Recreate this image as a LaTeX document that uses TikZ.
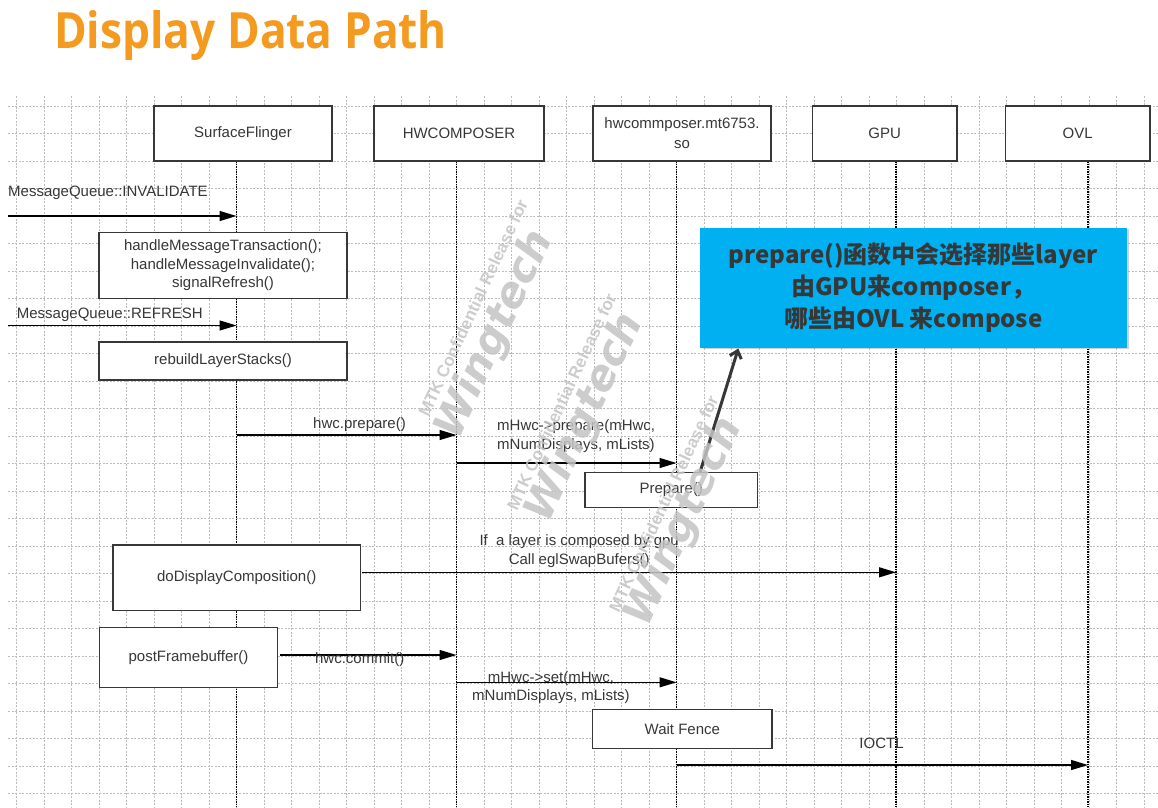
\documentclass[tikz,border=0pt]{standalone}
\usepackage{fontspec}
\setmainfont{Liberation Sans}
\newfontfamily\titrefont{Open Sans}
\newfontfamily\cjk{Noto Sans CJK SC}
\newfontfamily\marquefont{DejaVu Sans}
\usetikzlibrary{arrows.meta}

\definecolor{titre}{RGB}{243,154,31}
\definecolor{bleu}{RGB}{0,176,240}
\definecolor{trait}{RGB}{55,55,55}
\definecolor{grille}{RGB}{188,188,188}
\definecolor{filigrane}{RGB}{196,196,196}

\begin{document}
\begin{tikzpicture}[x=1pt,y=-1pt]
\tikzset{tete/.style={draw=trait, fill=white, line width=1.2pt, minimum height=55pt, inner sep=0pt, align=center, font=\fontsize{15}{20}\selectfont, text=trait},
boite/.style={draw=trait, fill=white, line width=1.2pt, inner sep=0pt, align=center, font=\fontsize{15}{18.5}\selectfont, text=trait},
fleche/.style={-{Triangle[length=17pt,width=10pt]}, line width=1.3pt},
vie/.style={dash pattern=on 1.5pt off 1pt, line width=1.2pt},
etiq/.style={font=\fontsize{15}{18.5}\selectfont, inner sep=0pt, align=center, text=trait},
grid/.style={draw=grille, line width=0.8pt, dash pattern=on 2pt off 1.5pt},
marque/.style={text=filigrane, opacity=0.85, inner sep=0pt, rotate=65}}
\useasboundingbox (0,0) rectangle (1158,807);
\fill[white] (0,0) rectangle (1158,807);
% grille
\foreach \i in {0,...,41} \draw[grid] ({16.5+27.5*\i},96) -- ({16.5+27.5*\i},807);
\foreach \j in {0,...,25} \draw[grid] (8,{106+27.5*\j}) -- (1158,{106+27.5*\j});
% titre
\node[anchor=base west, inner sep=0pt, text=titre, font=\titrefont\bfseries\fontsize{50}{50}\selectfont] (T) at (54,48) {\scalebox{0.885}[1]{Display Data Path}};
% lignes de vie
\foreach \n/\x in {SF/236.5, HWC/456.5, HAL/676.5, GPU/896, OVL/1088} {
  \coordinate (h\n) at (\x,161);
  \coordinate (b\n) at (\x,807);
  \draw[vie] (h\n) -- (b\n);
}
% entetes
\node[tete, minimum width=178pt] (SF) at (243,133.5) {SurfaceFlinger};
\node[tete, minimum width=170pt] (HWC) at (459,133.5) {HWCOMPOSER};
\node[tete, minimum width=178pt] (HAL) at (682,133.5) {hwcommposer.mt6753.\\so};
\node[tete, minimum width=144.5pt] (GPU) at (884.7,133.5) {GPU};
\node[tete, minimum width=144.5pt] (OVL) at (1077.7,133.5) {OVL};
% boites
\node[boite, minimum width=248pt, minimum height=65.6pt] (B1) at (223,265.5) {handleMessageTransaction();\\handleMessageInvalidate();\\signalRefresh()};
\node[boite, minimum width=248pt, minimum height=38pt] (B2) at (223,361) {rebuildLayerStacks()};
\node[boite, minimum width=172.7pt, minimum height=35.4pt] (PR) at (671.3,490) {Prepare()};
\node[boite, minimum width=247.4pt, minimum height=65.7pt] (DC) at (236.7,577.8) {doDisplayComposition()};
\node[boite, minimum width=178.5pt, minimum height=60.4pt] (PF) at (188.5,657.5) {postFramebuffer()};
\node[boite, minimum width=179.3pt, minimum height=39pt] (WF) at (682.3,728.8) {Wait Fence};
% messages
\coordinate (m1) at (8,216);
\draw[fleche] (m1) -- (m1 -| hSF);
\node[etiq, anchor=west] (t1) at (8,193.3) {MessageQueue::INVALIDATE};
\coordinate (m2) at (8,325.5);
\draw[fleche] (m2) -- (m2 -| hSF);
\node[etiq, anchor=west] (t2) at (16.7,315) {MessageQueue::REFRESH};
\coordinate (m3) at (236.5,435);
\draw[fleche] (m3) -- (m3 -| hHWC);
\node[etiq] (t3) at (359.5,425) {hwc.prepare()};
\coordinate (m4) at (456.5,463);
\draw[fleche] (m4) -- (m4 -| hHAL);
\node[etiq, anchor=west, align=left] (t4) at (497,436) {mHwc->prepare(mHwc,\\mNumDisplays, mLists)};
\coordinate (m5) at (362,572.3);
\draw[fleche] (m5) -- (m5 -| hGPU);
\node[etiq] (t5) at (579.2,551) {If\ \ a layer is composed by gpu\\Call eglSwapBufers()};
\coordinate (m6) at (280,655);
\draw[fleche] (m6) -- (m6 -| hHWC);
\node[etiq] (t6) at (359.7,660) {hwc.commit()};
\coordinate (m7) at (456.5,682.3);
\draw[fleche] (m7) -- (m7 -| hHAL);
\node[etiq] (t7) at (551,687.5) {mHwc->set(mHwc,\\mNumDisplays, mLists)};
\coordinate (m8) at (676.5,765);
\draw[fleche] (m8) -- (m8 -| hOVL);
\node[etiq] (t8) at (881.5,743.3) {IOCTL};
% note
\fill[black!35, opacity=0.5] (702.5,229) rectangle (1129,349);
\node[fill=bleu, minimum width=426.7pt, minimum height=120pt, inner sep=0pt, align=center, text=trait, font=\cjk\bfseries\fontsize{24}{31.7}\selectfont] (NOTE) at (913.3,287.5) {prepare()函数中会选择那些layer\\由GPU来composer，\\哪些由OVL 来compose};
\coordinate (pA) at (700,472.3);
\coordinate (pB) at (738.3,348.5);
\draw[trait, line width=3pt, -{Straight Barb[length=7pt,width=12pt]}] (pA) -- (pB);
% filigranes
\foreach \cx/\cy/\wx/\wy in {473/308/495/335, 561.5/401.5/585/418, 663.5/503.5/684/522} {
  \node[marque, font=\bfseries\fontsize{17}{17}\selectfont] at (\cx,\cy) {MTK Confidential Release for};
  \node[marque, font=\marquefont\bfseries\itshape\fontsize{42}{42}\selectfont] at (\wx,\wy) {Wingtech};
}
\end{tikzpicture}
\end{document}
